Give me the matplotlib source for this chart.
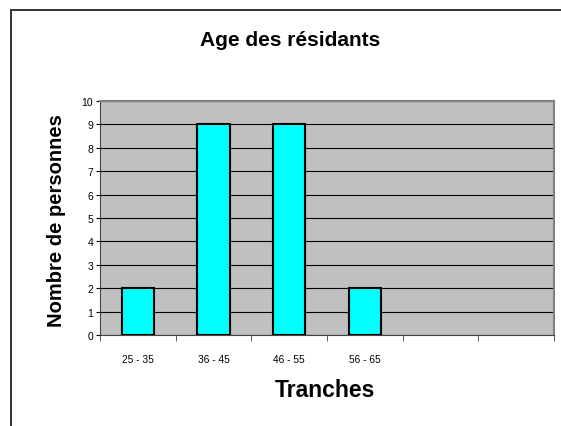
import matplotlib.pyplot as plt
from matplotlib.patches import Rectangle

plt.rcParams['font.family'] = ['Liberation Sans', 'DejaVu Sans']

categories = ['25 - 35', '36 - 45', '46 - 55', '56 - 65', '', '']
counts = [2, 9, 9, 2, 0, 0]

W, H = 561, 427
fig = plt.figure(figsize=(W / 100, H / 100), dpi=100)

# outer chart frame (runs off the right and bottom edges)
fig.patches.append(Rectangle((11 / W, -0.05), 1.1, (H - 11) / H + 0.05,
                             transform=fig.transFigure, fill=False,
                             edgecolor='#222222', linewidth=1.3))

ax = fig.add_axes([100 / W, (H - 336) / H, 454 / W, 234 / H])
ax.set_facecolor('#c0c0c0')

x = list(range(len(categories)))
ax.bar(x[:4], counts[:4], width=0.43, color='#00ffff', edgecolor='black',
       linewidth=1.5, zorder=3)

ax.set_xlim(-0.5, len(categories) - 0.5)
ax.set_ylim(0, 10)
ax.set_yticks(range(0, 11))
ax.yaxis.grid(True, color='black', linewidth=0.8, zorder=1)
ax.set_axisbelow(True)

ax.set_xticks(x)
ax.set_xticklabels(categories, fontsize=7.3)
ax.tick_params(axis='x', length=0, pad=14)
ax.set_xticks([i - 0.5 for i in range(len(categories) + 1)], minor=True)
ax.tick_params(axis='x', which='minor', length=4, direction='out', color='#444444')
ax.tick_params(axis='y', labelsize=7.5, length=3, direction='out', pad=2)

for side in ['top', 'right']:
    ax.spines[side].set_color('#808080')
    ax.spines[side].set_linewidth(1.5)
ax.spines['left'].set_color('#444444')
ax.spines['bottom'].set_color('#444444')

fig.text(290 / W, 1 - 41 / H, 'Age des résidants', ha='center', va='center',
         fontsize=15, fontweight='bold')
fig.text(325 / W, 1 - 391 / H, 'Tranches', ha='center', va='center',
         fontsize=16.5, fontweight='bold')
fig.text(57 / W, 1 - 221 / H, 'Nombre de personnes', ha='center', va='center',
         rotation=90, fontsize=14.5, fontweight='bold')

fig.savefig('out.png', dpi=100)
